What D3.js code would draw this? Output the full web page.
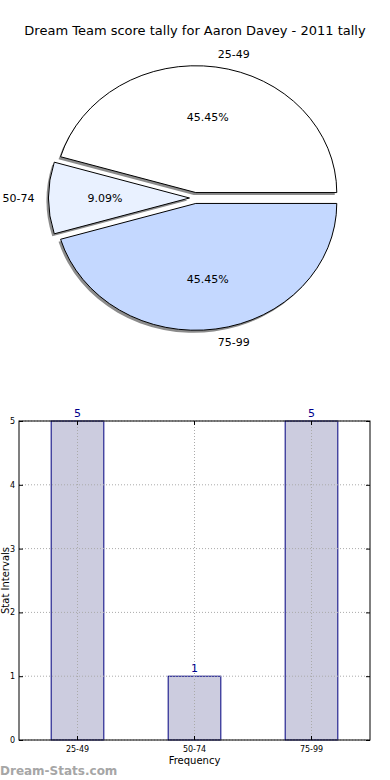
<!DOCTYPE html>
<html>
<head>
<meta charset="utf-8">
<script src="https://cdn.jsdelivr.net/npm/d3@7"></script>
<style>
  body { margin: 0; background: #fff; }
  svg { display: block; font-family: "DejaVu Sans", sans-serif; }
</style>
</head>
<body>
<script>
// data
var categories = ['25-49', '50-74', '75-99'];
var counts = [5, 1, 5];
var sliceColors = ['#ffffff', '#e9f1ff', '#c4d8ff'];
var yTicks = [0, 1, 2, 3, 4, 5];

var svg = d3.select('body').append('svg')
    .attr('width', 390)
    .attr('height', 780);

// title
svg.append('text')
    .attr('x', 195).attr('y', 35)
    .attr('text-anchor', 'middle')
    .attr('font-size', 13)
    .text('Dream Team score tally for Aaron Davey - 2011 tally');

// ---- pie ----
var cx = 195, cy = 198, rx = 141, ry = 127, explode = 5.5;
var total = d3.sum(counts);

// matplotlib style: start at 3 o'clock, go counterclockwise
var pie = d3.pie().sort(null)
    .startAngle(Math.PI / 2)
    .endAngle(Math.PI / 2 - 2 * Math.PI);
var arcs = pie(counts);
var arc = d3.arc().innerRadius(0).outerRadius(1);

var pieG = svg.append('g');

function midAngle(d) { return (d.startAngle + d.endAngle) / 2; }
function offX(d) { return Math.sin(midAngle(d)) * explode; }
function offY(d) { return -Math.cos(midAngle(d)) * explode; }

// shadows first
pieG.selectAll('path.shadow')
  .data(arcs)
  .enter().append('path')
    .attr('class', 'shadow')
    .attr('d', arc)
    .attr('transform', function(d) {
      return 'translate(' + (cx + offX(d) - 2) + ',' + (cy + offY(d) + 2.5) + ') scale(' + rx + ',' + ry + ')';
    })
    .attr('fill', '#8c8c8c');

pieG.selectAll('path.slice')
  .data(arcs)
  .enter().append('path')
    .attr('class', 'slice')
    .attr('d', arc)
    .attr('transform', function(d) {
      return 'translate(' + (cx + offX(d)) + ',' + (cy + offY(d)) + ') scale(' + rx + ',' + ry + ')';
    })
    .attr('fill', function(d, i) { return sliceColors[i]; })
    .attr('stroke', '#000')
    .attr('stroke-width', 1)
    .attr('vector-effect', 'non-scaling-stroke');

// labels
pieG.selectAll('text.lbl')
  .data(arcs)
  .enter().append('text')
    .attr('class', 'lbl')
    .attr('font-size', 11)
    .attr('dy', '0.35em')
    .attr('text-anchor', function(d) { return Math.sin(midAngle(d)) >= 0 ? 'start' : 'end'; })
    .attr('x', function(d) { return cx + offX(d) + Math.sin(midAngle(d)) * rx * 1.1; })
    .attr('y', function(d) { return cy + offY(d) - Math.cos(midAngle(d)) * ry * 1.1; })
    .text(function(d, i) { return categories[i]; });

pieG.selectAll('text.pct')
  .data(arcs)
  .enter().append('text')
    .attr('class', 'pct')
    .attr('font-size', 11)
    .attr('dy', '0.35em')
    .attr('text-anchor', 'middle')
    .attr('x', function(d) { return cx + offX(d) + Math.sin(midAngle(d)) * rx * 0.6; })
    .attr('y', function(d) { return cy + offY(d) - Math.cos(midAngle(d)) * ry * 0.6; })
    .text(function(d) { return (d.value / total * 100).toFixed(2) + '%'; });

// ---- bar chart ----
var plotL = 19, plotR = 370, plotT = 421, plotB = 740;

var x = d3.scaleBand()
    .domain(categories)
    .range([plotL, plotR]);
var y = d3.scaleLinear()
    .domain([0, 5])
    .range([plotB, plotT]);
var barW = x.bandwidth() * 0.45;

var barG = svg.append('g');

barG.selectAll('rect.bar')
  .data(counts)
  .enter().append('rect')
    .attr('class', 'bar')
    .attr('x', function(d, i) { return x(categories[i]) + x.bandwidth() / 2 - barW / 2; })
    .attr('y', function(d) { return y(d); })
    .attr('width', barW)
    .attr('height', function(d) { return plotB - y(d); })
    .attr('fill', '#ccccdf')
    .attr('stroke', '#000080')
    .attr('stroke-width', 1);

// grid (drawn on top like matplotlib default)
barG.selectAll('line.gy')
  .data(yTicks)
  .enter().append('line')
    .attr('x1', plotL).attr('x2', plotR)
    .attr('y1', function(d) { return y(d); })
    .attr('y2', function(d) { return y(d); })
    .attr('stroke', '#aaa')
    .attr('stroke-dasharray', '1,2');

barG.selectAll('line.gx')
  .data(categories)
  .enter().append('line')
    .attr('y1', plotT).attr('y2', plotB)
    .attr('x1', function(d) { return x(d) + x.bandwidth() / 2; })
    .attr('x2', function(d) { return x(d) + x.bandwidth() / 2; })
    .attr('stroke', '#aaa')
    .attr('stroke-dasharray', '1,2');

// axes with inward ticks
var yAxisL = d3.axisLeft(y).tickValues(yTicks).tickFormat(d3.format('d'))
    .tickSizeInner(-4).tickSizeOuter(0).tickPadding(4);
var yAxisR = d3.axisRight(y).tickValues(yTicks).tickSizeInner(-4).tickSizeOuter(0).tickFormat('');
var xAxisB = d3.axisBottom(x).tickSizeInner(-4).tickSizeOuter(0).tickPadding(6);
var xAxisT = d3.axisTop(x).tickSizeInner(-4).tickSizeOuter(0).tickFormat('');

[[yAxisL, 'translate(' + plotL + ',0)'],
 [yAxisR, 'translate(' + plotR + ',0)'],
 [xAxisB, 'translate(0,' + plotB + ')'],
 [xAxisT, 'translate(0,' + plotT + ')']].forEach(function(a) {
  var g = barG.append('g').attr('transform', a[1]).call(a[0]);
  g.select('.domain').remove();
  g.selectAll('text').attr('font-size', 8).attr('font-family', '"DejaVu Sans", sans-serif').attr('fill', '#000');
  g.selectAll('line').attr('stroke', '#000');
});

// frame
barG.append('rect')
    .attr('x', plotL).attr('y', plotT)
    .attr('width', plotR - plotL).attr('height', plotB - plotT)
    .attr('fill', 'none')
    .attr('stroke', '#000')
    .attr('stroke-width', 1);

// value labels
barG.selectAll('text.val')
  .data(counts)
  .enter().append('text')
    .attr('class', 'val')
    .attr('x', function(d, i) { return x(categories[i]) + x.bandwidth() / 2; })
    .attr('y', function(d) { return y(d) - 4; })
    .attr('text-anchor', 'middle')
    .attr('font-size', 11)
    .attr('fill', '#00008b')
    .text(function(d) { return d; });

// axis titles
svg.append('text')
    .attr('x', (plotL + plotR) / 2).attr('y', 764)
    .attr('text-anchor', 'middle')
    .attr('font-size', 10)
    .text('Frequency');

svg.append('text')
    .attr('transform', 'translate(9,' + (plotT + plotB) / 2 + ') rotate(-90)')
    .attr('text-anchor', 'middle')
    .attr('font-size', 10)
    .text('Stat Intervals');

// watermark
svg.append('text')
    .attr('x', 0).attr('y', 775)
    .attr('font-size', 12)
    .attr('font-weight', 'bold')
    .attr('fill', '#a6a6a6')
    .text('Dream-Stats.com');
</script>
</body>
</html>
